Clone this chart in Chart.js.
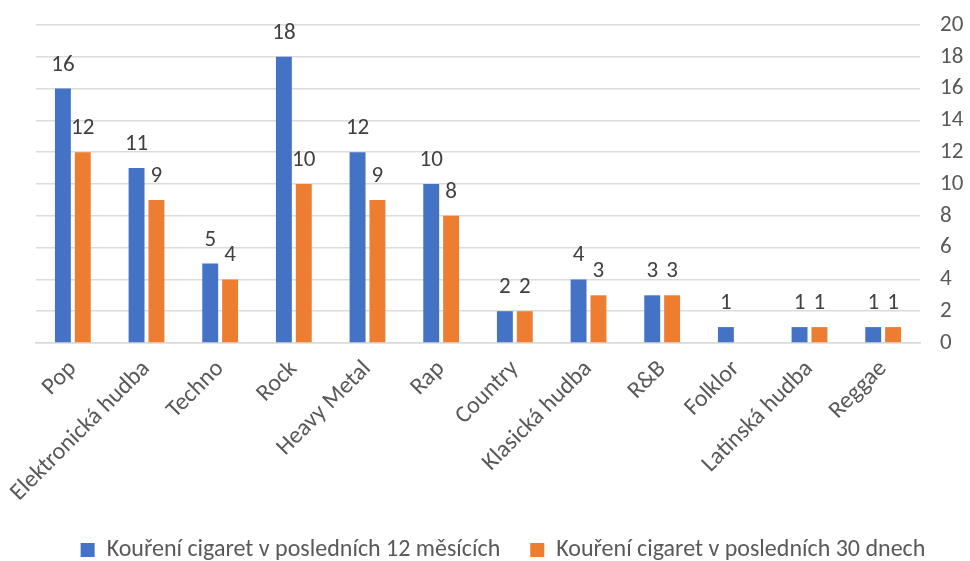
<!DOCTYPE html>
<html>
<head>
<meta charset="utf-8">
<script src="https://cdn.jsdelivr.net/npm/chart.js@4/dist/chart.umd.min.js"></script>
<style>
html,body{margin:0;padding:0;background:#fff;}
#wrap{width:970px;height:561px;position:relative;}
</style>
</head>
<body>
<div id="wrap"><canvas id="c" width="970" height="561"></canvas></div>
<script>
const categories = ["Pop","Elektronická hudba","Techno","Rock","Heavy Metal","Rap","Country","Klasická hudba","R&B","Folklor","Latinská hudba","Reggae"];
const series12m = [16,11,5,18,12,10,2,4,3,1,1,1];
const series30d = [12,9,4,10,9,8,2,3,3,null,1,1];
const seriesNames = ["Kouření cigaret v posledních 12 měsících","Kouření cigaret v posledních 30 dnech"];
const yTicks = [0,2,4,6,8,10,12,14,16,18,20];

const FONT = 'Carlito, "Liberation Sans", sans-serif';

const labelPlugin = {
  id: 'barLabels',
  afterDatasetsDraw(chart) {
    const ctx = chart.ctx;
    ctx.save();
    ctx.font = '23px ' + FONT;
    ctx.fillStyle = '#404040';
    ctx.textAlign = 'center';
    ctx.textBaseline = 'alphabetic';
    chart.data.datasets.forEach((ds, i) => {
      const meta = chart.getDatasetMeta(i);
      meta.data.forEach((bar, j) => {
        const v = ds.data[j];
        if (v === null || v === undefined) return;
        ctx.fillText(String(v), bar.x, bar.y - 18);
      });
    });
    ctx.restore();
  }
};

new Chart(document.getElementById('c'), {
  type: 'bar',
  data: {
    labels: categories,
    datasets: [
      {label: seriesNames[0], data: series12m, backgroundColor: '#4472C4', categoryPercentage: 0.54, barPercentage: 0.8},
      {label: seriesNames[1], data: series30d, backgroundColor: '#ED7D31', categoryPercentage: 0.54, barPercentage: 0.8}
    ]
  },
  options: {
    responsive: false,
    animation: false,
    layout: {padding: {top: 25, right: 0, left: 36, bottom: -11}},
    plugins: {
      legend: {
        position: 'bottom',
        labels: {
          boxWidth: 14, boxHeight: 14, color: '#595959',
          font: {size: 24, family: FONT}, padding: 30
        }
      },
      tooltip: {enabled: false}
    },
    scales: {
      x: {
        grid: {display: false},
        border: {color: '#d9d9d9', width: 1.5},
        ticks: {color: '#595959', font: {size: 24, family: FONT}, maxRotation: 45, minRotation: 45, autoSkip: false, padding: 4},
        afterFit(axis) { axis.height = 165; axis.paddingLeft = 0; axis.paddingRight = 0; }
      },
      y: {
        position: 'right',
        min: 0, max: 20,
        afterBuildTicks(axis) { axis.ticks = yTicks.map(v => ({value: v})); },
        grid: {color: '#dcdcdc', lineWidth: 1.5, drawTicks: false},
        border: {display: false},
        ticks: {color: '#595959', font: {size: 23, family: FONT}, padding: 20},
        afterFit(axis) { axis.width = 50; axis.paddingTop = 0; axis.paddingBottom = 0; }
      }
    }
  },
  plugins: [labelPlugin]
});
</script>
</body>
</html>
